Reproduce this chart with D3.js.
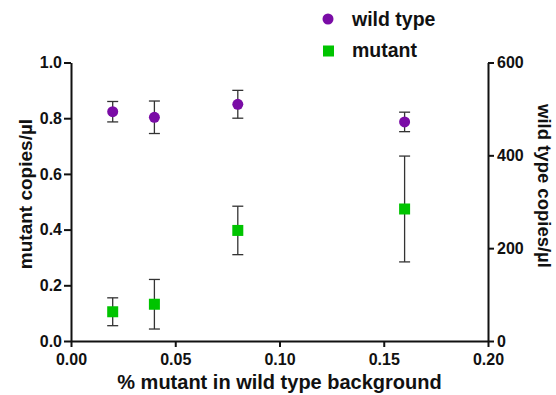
<!DOCTYPE html>
<html>
<head>
<meta charset="utf-8">
<script src="https://cdn.jsdelivr.net/npm/d3@7"></script>
<style>
  body { margin: 0; background: #fff; }
  text { font-family: "Liberation Sans", Arial, sans-serif; font-weight: bold; fill: #111; }
</style>
</head>
<body>
<svg id="chart" width="556" height="395"></svg>
<script>
// % mutant in wild type background
const xValues = [0.02, 0.04, 0.08, 0.16];

// wild type copies/µl (right axis) with SD
const wildType = [494, 482, 510, 472];
const wildTypeErr = [22, 35, 30, 21];

// mutant copies/µl (left axis) with SD
const mutant = [0.105, 0.132, 0.397, 0.474];
const mutantErr = [0.050, 0.089, 0.087, 0.190];

const xTicks = [0, 0.05, 0.10, 0.15, 0.20];
const leftTicks = [0, 0.2, 0.4, 0.6, 0.8, 1.0];
const rightTicks = [0, 200, 400, 600];

const svg = d3.select('#chart');
const margin = { top: 62.5, right: 68, bottom: 54, left: 71 };
const width = 556 - margin.left - margin.right;
const height = 395 - margin.top - margin.bottom;

const x = d3.scaleLinear().domain([0, 0.2]).range([0, width]);
const yL = d3.scaleLinear().domain([0, 1]).range([height, 0]);
const yR = d3.scaleLinear().domain([0, 600]).range([height, 0]);

const g = svg.append('g')
    .attr('transform', `translate(${margin.left},${margin.top})`);

const xAxis = d3.axisBottom(x).tickValues(xTicks).tickFormat(d3.format('.2f')).tickSizeInner(6).tickSizeOuter(0).tickPadding(4);
const leftAxis = d3.axisLeft(yL).tickValues(leftTicks).tickFormat(d3.format('.1f')).tickSizeInner(7).tickSizeOuter(0).tickPadding(2);
const rightAxis = d3.axisRight(yR).tickValues(rightTicks).tickSizeInner(6).tickSizeOuter(0).tickPadding(3);

g.append('g').attr('class', 'x-axis').attr('transform', `translate(0,${height})`).call(xAxis);
g.append('g').attr('class', 'y-left').call(leftAxis);
g.append('g').attr('class', 'y-right').attr('transform', `translate(${width},0)`).call(rightAxis);

svg.selectAll('.domain').attr('stroke', '#111').attr('stroke-width', 2);
svg.selectAll('.tick line').attr('stroke', '#111').attr('stroke-width', 2);
svg.selectAll('.tick text')
    .attr('fill', '#111')
    .style('font-size', '16px')
    .style('font-weight', 'bold')
    .style('font-family', '"Liberation Sans", Arial, sans-serif');
// x tick labels need to go under the line, not only below the tick
g.select('.x-axis').selectAll('.tick text').attr('y', 13);

// error bars
function drawErrors(vals, errs, scale, cls) {
    const capW = 5.5;
    const eg = g.append('g').attr('class', cls);
    vals.forEach((v, i) => {
        const cx = x(xValues[i]);
        const top = scale(v + errs[i]);
        const bot = scale(v - errs[i]);
        eg.append('line').attr('x1', cx).attr('x2', cx).attr('y1', top).attr('y2', bot);
        eg.append('line').attr('x1', cx - capW).attr('x2', cx + capW).attr('y1', top).attr('y2', top);
        eg.append('line').attr('x1', cx - capW).attr('x2', cx + capW).attr('y1', bot).attr('y2', bot);
    });
    eg.selectAll('line').attr('stroke', '#333').attr('stroke-width', 1.3);
}
drawErrors(wildType, wildTypeErr, yR, 'wt-err');
drawErrors(mutant, mutantErr, yL, 'mut-err');

const purple = '#7a0ca6';
const green = '#00c400';

g.selectAll('.wt-pt')
    .data(wildType)
    .enter().append('circle')
    .attr('class', 'wt-pt')
    .attr('cx', (d, i) => x(xValues[i]))
    .attr('cy', d => yR(d))
    .attr('r', 5.5)
    .attr('fill', purple);

const sq = 11;
g.selectAll('.mut-pt')
    .data(mutant)
    .enter().append('rect')
    .attr('class', 'mut-pt')
    .attr('x', (d, i) => x(xValues[i]) - sq / 2)
    .attr('y', d => yL(d) - sq / 2)
    .attr('width', sq)
    .attr('height', sq)
    .attr('fill', green);

// axis titles
svg.append('text')
    .attr('x', margin.left + width / 2)
    .attr('y', 389)
    .attr('text-anchor', 'middle')
    .style('font-size', '20px')
    .text('% mutant in wild type background');

svg.append('text')
    .attr('transform', 'translate(32,194) rotate(-90)')
    .attr('text-anchor', 'middle')
    .style('font-size', '19px')
    .text('mutant copies/µl');

svg.append('text')
    .attr('transform', 'translate(538,186) rotate(90)')
    .attr('text-anchor', 'middle')
    .style('font-size', '18.5px')
    .text('wild type copies/µl');

// legend
const legend = svg.append('g').attr('class', 'legend');
legend.append('circle').attr('cx', 328).attr('cy', 19).attr('r', 5.5).attr('fill', purple);
legend.append('text').attr('x', 352).attr('y', 26).style('font-size', '19.5px').text('wild type');
legend.append('rect').attr('x', 323).attr('y', 45.5).attr('width', sq).attr('height', sq).attr('fill', green);
legend.append('text').attr('x', 352).attr('y', 57).style('font-size', '19.5px').text('mutant');
</script>
</body>
</html>
